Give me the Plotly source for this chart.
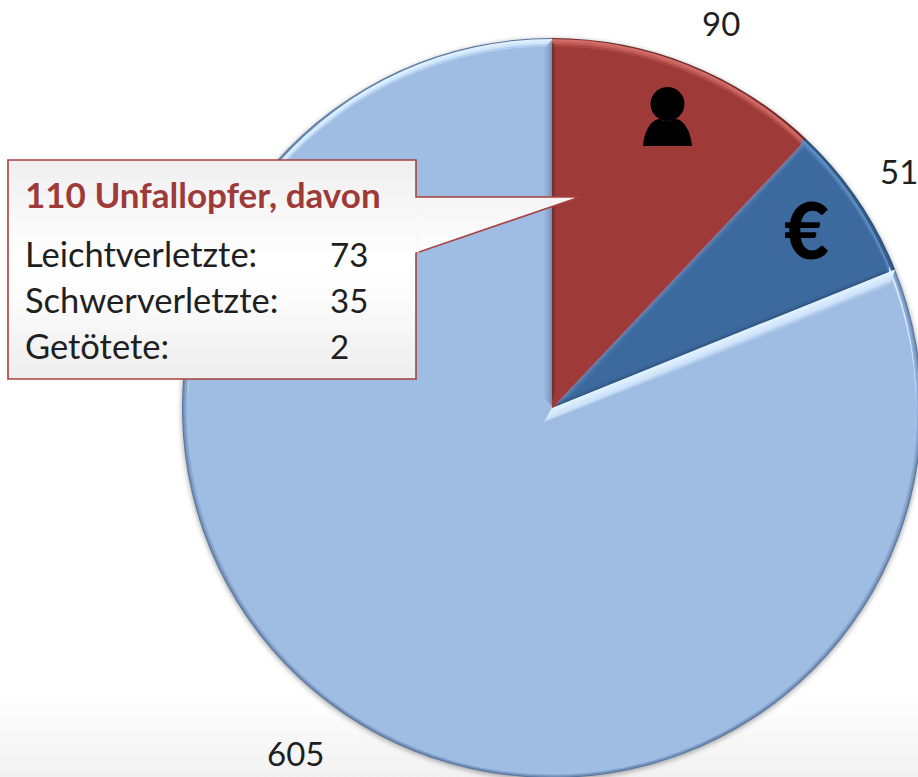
import base64
import plotly.graph_objects as go

# ---- data ----
categories = ["Personenschaden", "Sachschaden", "Sonstige"]
values = [90, 51, 605]
victim_title = "110 Unfallopfer, davon"
victim_labels = ["Leichtverletzte:", "Schwerverletzte:", "Getötete:"]
victim_values = [73, 35, 2]
currency_symbol = "€"

main_colors = ["#9e3b39", "#3d6a9e", "#9fbce3"]
light_colors = ["#d16c68", "#6190c6", "#dcf0ff"]
light2_colors = ["#c25d59", "#5584ba", "#cfe6fb"]
light3_colors = ["#ad4845", "#4675a9", "#b3cfef"]
dark_colors = ["#6a2826", "#2a4a70", "#56749e"]
dark2_colors = ["#7e302e", "#335a87", "#7390b8"]
dark3_colors = ["#8f3533", "#38628f", "#8aa7d0"]

# ---- layout helpers ----
W, H = 924, 782      # slightly larger than the window: the pie bleeds off the edge
CX, CY, R = 552.0, 408.0, 370.0
FONT = "Lato, Carlito, Calibri, sans-serif"


def px(x):
    return x / W


def py(y):
    return 1 - y / H


def pie_layer(colors, radius, dy=0.0):
    cy = CY + dy
    return go.Pie(
        values=values, labels=categories, sort=False, direction="clockwise", rotation=0,
        domain=dict(x=[px(CX - radius), px(CX + radius)],
                    y=[py(cy + radius), py(cy - radius)]),
        marker=dict(colors=colors, line=dict(width=0)),
        textinfo="none", hoverinfo="skip", showlegend=False,
    )


fig = go.Figure()
# stacked discs: a darker soft edge all round, a light crescent along the top
fig.add_trace(pie_layer(dark_colors, R))
fig.add_trace(pie_layer(dark2_colors, R - 1.0))
fig.add_trace(pie_layer(dark3_colors, R - 2.5))
fig.add_trace(pie_layer(main_colors, R - 4.5))
fig.add_trace(pie_layer(light_colors, R - 6.0, -5.0))
fig.add_trace(pie_layer(light2_colors, R - 6.0, -2.5))
fig.add_trace(pie_layer(light3_colors, R - 6.0, 0.0))
fig.add_trace(pie_layer(main_colors, R - 6.0, 2.5))

background_svg = f"""<svg xmlns='http://www.w3.org/2000/svg' width='{W}' height='{H}' viewBox='0 0 {W} {H}'>
<defs><linearGradient id='bg' x1='0' y1='0' x2='0' y2='1'>
<stop offset='0' stop-color='#ffffff'/><stop offset='1' stop-color='#f1f1f1'/></linearGradient>
<filter id='blur' x='-10%' y='-10%' width='120%' height='120%'><feGaussianBlur stdDeviation='2.5'/></filter></defs>
<rect x='0' y='690' width='{W}' height='{H-690}' fill='url(#bg)'/>
<circle cx='{CX}' cy='{CY+1.5}' r='{R+0.5}' fill='#666' opacity='.55' filter='url(#blur)'/></svg>"""

overlay_svg = f"""<svg xmlns='http://www.w3.org/2000/svg' width='{W}' height='{H}' viewBox='0 0 {W} {H}'>
<defs>
<linearGradient id='rimLight' x1='0' y1='0' x2='1' y2='0'>
<stop offset='0' stop-color='#e6f5ff' stop-opacity='1'/><stop offset='.55' stop-color='#d3e8fc' stop-opacity='.85'/>
<stop offset='1' stop-color='#9fbce3' stop-opacity='0'/></linearGradient>
<linearGradient id='rimGrey' x1='1' y1='0' x2='0' y2='0'>
<stop offset='0' stop-color='#5f7ca4' stop-opacity='.75'/><stop offset='1' stop-color='#9fbce3' stop-opacity='0'/></linearGradient>
<linearGradient id='rimRed' x1='0' y1='0' x2='1' y2='0'>
<stop offset='0' stop-color='#5f2423' stop-opacity='.75'/><stop offset='1' stop-color='#9e3b39' stop-opacity='0'/></linearGradient>
<linearGradient id='rimBlue' x1='0' y1='0' x2='1' y2='0'>
<stop offset='0' stop-color='#6a9ad2' stop-opacity='.8'/><stop offset='1' stop-color='#3d6a9e' stop-opacity='0'/></linearGradient>
<linearGradient id='rimBlueDark' x1='1' y1='0' x2='0' y2='0'>
<stop offset='0' stop-color='#24466e' stop-opacity='.7'/><stop offset='1' stop-color='#3d6a9e' stop-opacity='0'/></linearGradient>
<linearGradient id='box' x1='0' y1='160' x2='0' y2='379' gradientUnits='userSpaceOnUse'>
<stop offset='0' stop-color='#efefef'/><stop offset='.45' stop-color='#ffffff'/>
<stop offset='.6' stop-color='#fdfdfd'/><stop offset='1' stop-color='#ededed'/></linearGradient>
</defs>
<polygon points='552,40 552,406 541,396 541,50' fill='url(#rimGrey)'/>
<polygon points='552,42 552,400 558,392 558,48' fill='url(#rimRed)'/>
<g transform='rotate(43.4 552 408)'>
<polygon points='552,42 552,402 559,394 559,48' fill='url(#rimBlue)'/>
</g>
<g transform='rotate(68 552 408)'>
<polygon points='552,46 552,404 546,396 546,50' fill='url(#rimBlueDark)'/>
<polygon points='552,38 552,408 562,421 567,50' fill='url(#rimLight)'/>
</g>
<polygon points='8,160 416,160 416,197 580,197 416,253 416,379 8,379' fill='url(#box)' stroke='#a8413f' stroke-width='1.6' stroke-linejoin='miter'/>
<rect x='416.9' y='198' width='2' height='54.5' fill='#f8f8f8'/>
<circle cx='667.5' cy='104' r='17' fill='#000'/>
<path d='M643,146 C644,132 651,119 660,119 C664,122 671,122 675,119 C684,119 691,132 692,146 Z' fill='#000'/>
</svg>"""


def data_uri(svg):
    return "data:image/svg+xml;base64," + base64.b64encode(svg.encode("utf-8")).decode("ascii")


def text(x, y, s, size=33, color="#1f1f1f", bold=False, anchor="left", family=FONT, weight=None):
    font = dict(family=family, size=size, color=color)
    if weight:
        font["weight"] = weight
    fig.add_annotation(
        x=px(x), y=py(y), xref="paper", yref="paper", text=f"<b>{s}</b>" if bold else s,
        showarrow=False, xanchor=anchor, yanchor="middle", font=font,
    )


# slice value labels
text(721, 23.5, str(values[0]), anchor="center")
text(899, 171, str(values[1]), anchor="center")
text(295, 753, str(values[2]), anchor="center")

# currency glyph on the blue slice
text(806, 229, currency_symbol, size=78, color="#000000", anchor="center", weight=900)

# callout
text(23, 193.5, victim_title, size=35, color="#9e3b39", bold=True)
for label, val, y in zip(victim_labels, victim_values, [253.5, 299.5, 345.5]):
    text(23, y, label, size=34.5)
    text(328, y, str(val))

fig.update_layout(
    width=W, height=H, autosize=False,
    margin=dict(l=0, r=0, t=0, b=0, pad=0),
    paper_bgcolor="#ffffff",
    images=[
        dict(source=data_uri(background_svg), xref="paper", yref="paper", x=0, y=1,
             sizex=1, sizey=1, sizing="stretch", xanchor="left", yanchor="top", layer="below"),
        dict(source=data_uri(overlay_svg), xref="paper", yref="paper", x=0, y=1,
             sizex=1, sizey=1, sizing="stretch", xanchor="left", yanchor="top", layer="above"),
    ],
)

fig.write_html(
    "out.html",
    config=dict(displayModeBar=False, responsive=False),
    post_script="document.documentElement.style.overflow='hidden';"
                "document.body.style.overflow='hidden';document.body.style.margin='0';",
)
